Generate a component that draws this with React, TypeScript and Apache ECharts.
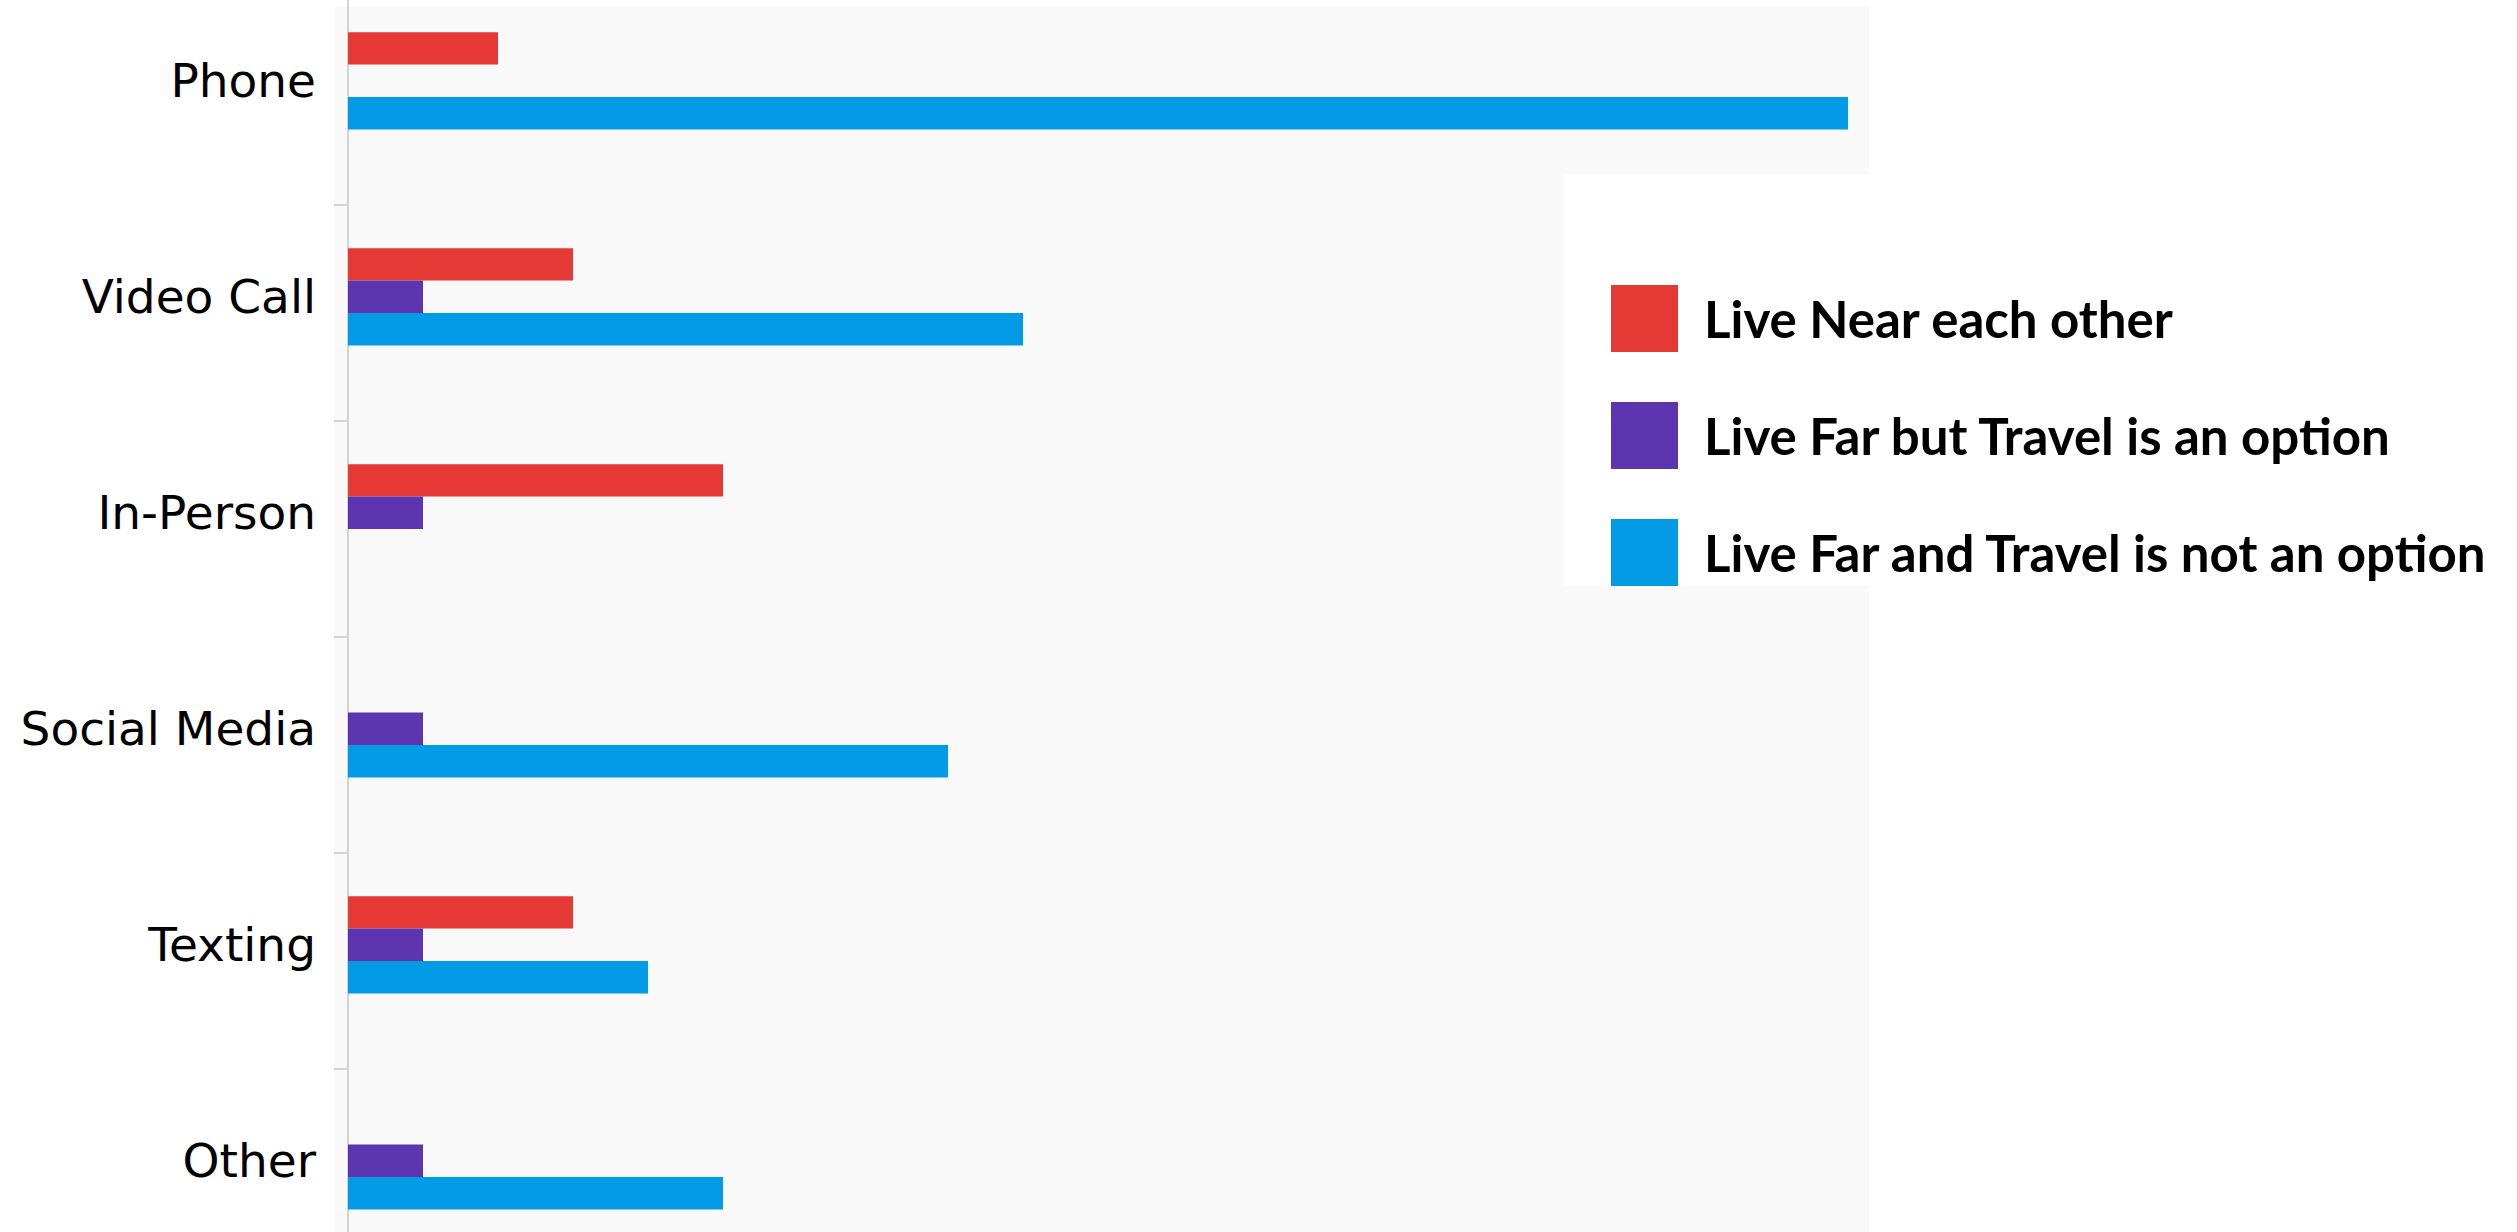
import React, { useEffect, useRef } from "react";
import * as echarts from "echarts";

const categories = ["Phone", "Video Call", "In-Person", "Social Media", "Texting", "Other"];
const seriesNames = [
  "Live Near each other",
  "Live Far but Travel is an option",
  "Live Far and Travel is not an option",
];
const liveNear = [2, 3, 5, 0, 3, 0];
const farTravelOption = [0, 1, 1, 1, 1, 1];
const farNoTravel = [20, 9, 0, 8, 4, 5];
const placeholder = [null, null, null, null, null, null];
const colors = ["#E53935", "#5E35B1", "#039BE5"];

export default function App() {
  const ref = useRef<HTMLDivElement>(null);
  useEffect(() => {
    document.body.style.margin = "0";
    if (!ref.current) return;
    const chart = echarts.init(ref.current, null, { renderer: "svg" });
    const values = [liveNear, farTravelOption, farNoTravel];
    chart.setOption({
      animation: false,
      backgroundColor: "#ffffff",
      graphic: [
        {
          type: "rect",
          z: -10,
          silent: true,
          shape: { x: 334, y: 7, width: 1535, height: 1240 },
          style: { fill: "#f9f9f9" },
        },
      ],
      grid: {
        left: 348,
        top: -11,
        width: 1500,
        height: 1296,
        containLabel: false,
        outerBoundsMode: "none",
      },
      xAxis: {
        type: "value",
        min: 0,
        max: 20,
        show: false,
      },
      yAxis: {
        type: "category",
        inverse: true,
        data: categories,
        axisLine: { show: true, lineStyle: { color: "#d0d4d4", width: 2 } },
        axisTick: { show: true, length: 14, lineStyle: { color: "#d0d4d4", width: 2 } },
        axisLabel: {
          margin: 32,
          fontFamily: "DejaVu Sans",
          fontSize: 47,
          color: "#000000",
          verticalAlign: "bottom",
          lineHeight: 34,
        },
      },
      legend: {
        orient: "vertical",
        left: 1564,
        top: 174,
        data: seriesNames,
        backgroundColor: "#ffffff",
        padding: [111, 20, 0, 47],
        itemWidth: 67,
        itemHeight: 67,
        itemGap: 50,
        icon: "rect",
        textStyle: {
          fontFamily: "Lato",
          fontWeight: "bold",
          fontSize: 51,
          color: "#000000",
          padding: [0, 0, 0, 21],
          verticalAlign: "bottom",
          lineHeight: 10,
        },
      },
      series: [
        ...seriesNames.map((name, i) => ({
          name,
          type: "bar",
          data: values[i],
          barGap: "0%",
          barCategoryGap: "40%",
          itemStyle: { color: colors[i] },
        })),
        {
          name: "",
          type: "bar",
          data: placeholder,
          barGap: "0%",
          barCategoryGap: "40%",
        },
      ],
    });
    return () => chart.dispose();
  }, []);
  return <div ref={ref} style={{ width: 2517, height: 1232 }} />;
}
